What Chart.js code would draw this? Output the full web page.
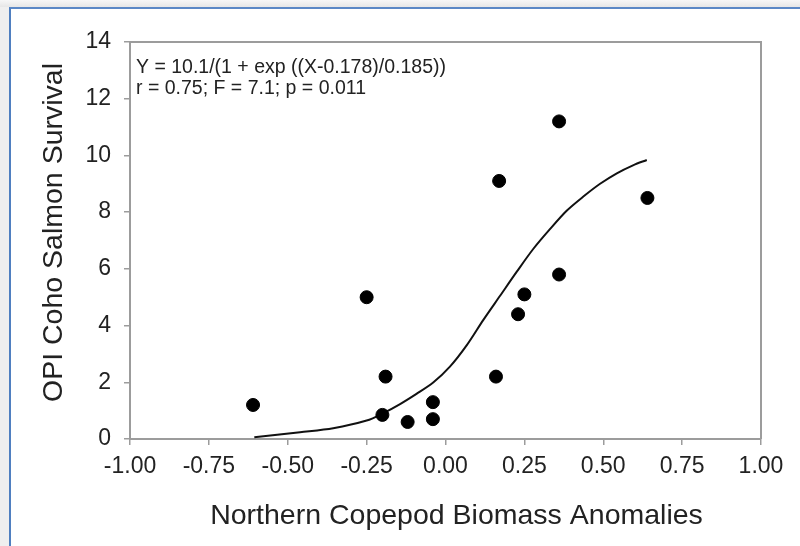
<!DOCTYPE html>
<html>
<head>
<meta charset="utf-8">
<script src="https://cdn.jsdelivr.net/npm/chart.js@4/dist/chart.umd.min.js"></script>
<style>
  html, body { margin: 0; padding: 0; }
  body { width: 800px; height: 546px; background: #efefef; position: relative; overflow: hidden; }
  #topstrip { position: absolute; left: 0; top: 0; width: 800px; height: 7px; background: linear-gradient(#f7f7f7, #e6e6e6); }
  #frame { position: absolute; left: 9px; top: 7px; width: 791px; height: 539px; background: #fff;
           border-top: 2px solid #5b88c6; border-left: 2px solid #4f7fc0; box-sizing: border-box; }
  #c { position: absolute; left: 0; top: 0; }
</style>
</head>
<body>
<div id="topstrip"></div>
<div id="frame"></div>
<canvas id="c" width="800" height="546"></canvas>
<script>
// Observed data points
const biomassAnomaly = [-0.61, -0.25, -0.19, -0.20, -0.12, -0.04, -0.04, 0.16, 0.17, 0.23, 0.25, 0.36, 0.36, 0.64];
const cohoSurvival   = [1.2, 5.0, 2.2, 0.85, 0.6, 1.3, 0.7, 2.2, 9.1, 4.4, 5.1, 5.8, 11.2, 8.5];

// Fitted curve
const curveX = [-0.606, -0.461, -0.356, -0.250, -0.197, -0.144, -0.092, -0.039, 0.014, 0.067, 0.120, 0.173, 0.226, 0.278, 0.331, 0.384, 0.437, 0.490, 0.543, 0.596, 0.638];
const curveY = [0.06, 0.24, 0.38, 0.65, 0.91, 1.23, 1.59, 1.99, 2.55, 3.30, 4.20, 5.05, 5.90, 6.70, 7.40, 8.05, 8.55, 9.00, 9.37, 9.66, 9.84];

// Tick labels
const xTickLabels = ['-1.00', '-0.75', '-0.50', '-0.25', '0.00', '0.25', '0.50', '0.75', '1.00'];
const yTickLabels = ['0', '2', '4', '6', '8', '10', '12', '14'];

const xTitle = 'Northern Copepod Biomass Anomalies';
const yTitle = 'OPI Coho Salmon Survival';
const annotationLines = ['Y = 10.1/(1 + exp ((X-0.178)/0.185))', 'r = 0.75; F = 7.1; p = 0.011'];

const FONT = '"Liberation Sans", Arial, sans-serif';
const TEXT = '#222';
const AXIS = '#9c9c9c';

const scatterPts = biomassAnomaly.map((x, i) => ({ x, y: cohoSurvival[i] }));
const curvePts = curveX.map((x, i) => ({ x, y: curveY[i] }));

const framePlugin = {
  id: 'framePlugin',
  afterDraw(chart) {
    const { ctx, chartArea: a } = chart;
    ctx.save();
    ctx.strokeStyle = AXIS;
    ctx.lineWidth = 2;
    ctx.beginPath();
    ctx.moveTo(a.left, a.top);
    ctx.lineTo(a.right, a.top);
    ctx.lineTo(a.right, a.bottom);
    ctx.stroke();
    // annotation text
    ctx.fillStyle = TEXT;
    ctx.font = '19.5px ' + FONT;
    ctx.textAlign = 'left';
    ctx.textBaseline = 'middle';
    ctx.fillText(annotationLines[0], a.left + 6, a.top + 26);
    ctx.fillText(annotationLines[1], a.left + 6, a.top + 47);
    // axis titles
    ctx.font = '28.5px ' + FONT;
    ctx.textAlign = 'center';
    ctx.fillText(xTitle, (a.left + a.right) / 2 + 11, 516);
    ctx.save();
    ctx.translate(54, (a.top + a.bottom) / 2 - 8);
    ctx.rotate(-Math.PI / 2);
    ctx.fillText(yTitle, 0, 0);
    ctx.restore();
    ctx.restore();
  }
};

new Chart(document.getElementById('c'), {
  type: 'scatter',
  data: {
    datasets: [
      {
        label: 'Observed',
        data: scatterPts,
        backgroundColor: '#000',
        borderColor: '#000',
        pointRadius: 6.5,
        pointHoverRadius: 6.5,
        showLine: false
      },
      {
        label: 'Fit',
        data: curvePts,
        showLine: true,
        borderColor: '#111',
        borderWidth: 2,
        pointRadius: 0,
        tension: 0.3,
        fill: false
      }
    ]
  },
  options: {
    responsive: false,
    devicePixelRatio: 1,
    animation: false,
    layout: { padding: { left: 0, top: 42, right: 39, bottom: 0 } },
    plugins: { legend: { display: false }, tooltip: { enabled: false } },
    scales: {
      x: {
        type: 'linear',
        min: -1, max: 1,
        afterFit(s) { s.height = 107; },
        afterBuildTicks(s) { s.ticks = xTickLabels.map(t => ({ value: parseFloat(t) })); },
        ticks: {
          callback: (v, i) => xTickLabels[i],
          font: { family: FONT, size: 23 },
          color: TEXT,
          padding: 8,
          maxRotation: 0,
          autoSkip: false
        },
        grid: { drawOnChartArea: false, drawTicks: true, tickLength: 6, color: AXIS, lineWidth: 1.5 },
        border: { display: true, color: AXIS, width: 2 }
      },
      y: {
        type: 'linear',
        min: 0, max: 14,
        afterFit(s) { s.width = 130; },
        afterBuildTicks(s) { s.ticks = yTickLabels.map(t => ({ value: parseFloat(t) })); },
        ticks: {
          callback: (v, i) => yTickLabels[i],
          font: { family: FONT, size: 23 },
          color: TEXT,
          padding: 13,
          autoSkip: false
        },
        grid: { drawOnChartArea: false, drawTicks: true, tickLength: 6, color: AXIS, lineWidth: 1.5 },
        border: { display: true, color: AXIS, width: 2 }
      }
    }
  },
  plugins: [framePlugin]
});
</script>
</body>
</html>
